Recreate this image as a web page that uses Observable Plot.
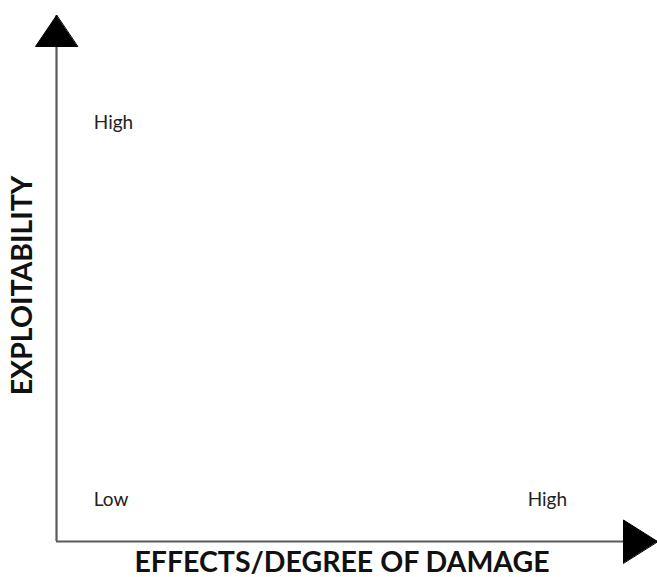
<!DOCTYPE html>
<html>
<head>
<meta charset="utf-8">
<script src="https://cdn.jsdelivr.net/npm/d3@7"></script>
<script src="https://cdn.jsdelivr.net/npm/@observablehq/plot@0.6"></script>
<style>
  html, body { margin: 0; padding: 0; background: #fff; }
</style>
</head>
<body>
<div id="chart"></div>
<script>
// Conceptual scale: 0 = origin, 10 = end of axis
const levelLabels = ["High", "Low", "High"];
const levelX = [0.62, 0.62, 7.84];
const levelY = [7.95, 0.80, 0.80];
const xAxisTitle = "EFFECTS/DEGREE OF DAMAGE";
const yAxisTitle = "EXPLOITABILITY";
const axisMin = 0;
const axisMax = 10;

const labels = levelLabels.map((t, i) => ({text: t, x: levelX[i], y: levelY[i]}));

const triangle = {
  draw(context, l, r) {
    context.moveTo(0, -l);
    context.lineTo(-r, 0);
    context.lineTo(r, 0);
    context.closePath();
  }
};

const chart = Plot.plot({
  width: 657,
  height: 577,
  marginLeft: 56,
  marginRight: 0,
  marginTop: 15,
  marginBottom: 36,
  x: {domain: [axisMin, axisMax], axis: null},
  y: {domain: [axisMin, axisMax], axis: null},
  style: {fontFamily: "Lato, sans-serif", background: "#fff"},
  marks: [
    Plot.ruleX([axisMin], {y1: axisMin, y2: axisMax, stroke: "#5a5a5a", strokeWidth: 2.2}),
    Plot.ruleY([axisMin], {x1: axisMin, x2: axisMax, stroke: "#5a5a5a", strokeWidth: 2.2}),
    Plot.vector([{x: axisMin, y: axisMax}], {x: "x", y: "y", anchor: "end", length: 31, r: 21, rotate: 0, shape: triangle, fill: "#000", stroke: "#000", strokeWidth: 1}),
    Plot.vector([{x: axisMax, y: axisMin}], {x: "x", y: "y", anchor: "end", length: 34, r: 21.5, rotate: 90, shape: triangle, fill: "#000", stroke: "#000", strokeWidth: 1}),
    Plot.text(labels, {x: "x", y: "y", text: "text", textAnchor: "start", fontSize: 19, fill: "#222", style: "letter-spacing:0.6px"}),
    Plot.text([yAxisTitle], {frameAnchor: "left", textAnchor: "middle", lineAnchor: "middle", dx: -34, dy: 7, rotate: -90, fontSize: 28.5, fontWeight: "bold", fill: "#111"}),
    Plot.text([xAxisTitle], {frameAnchor: "bottom", textAnchor: "middle", lineAnchor: "middle", dx: -15, dy: 21, fontSize: 28.5, fontWeight: "bold", fill: "#111"})
  ]
});
document.getElementById("chart").appendChild(chart);
</script>
</body>
</html>
